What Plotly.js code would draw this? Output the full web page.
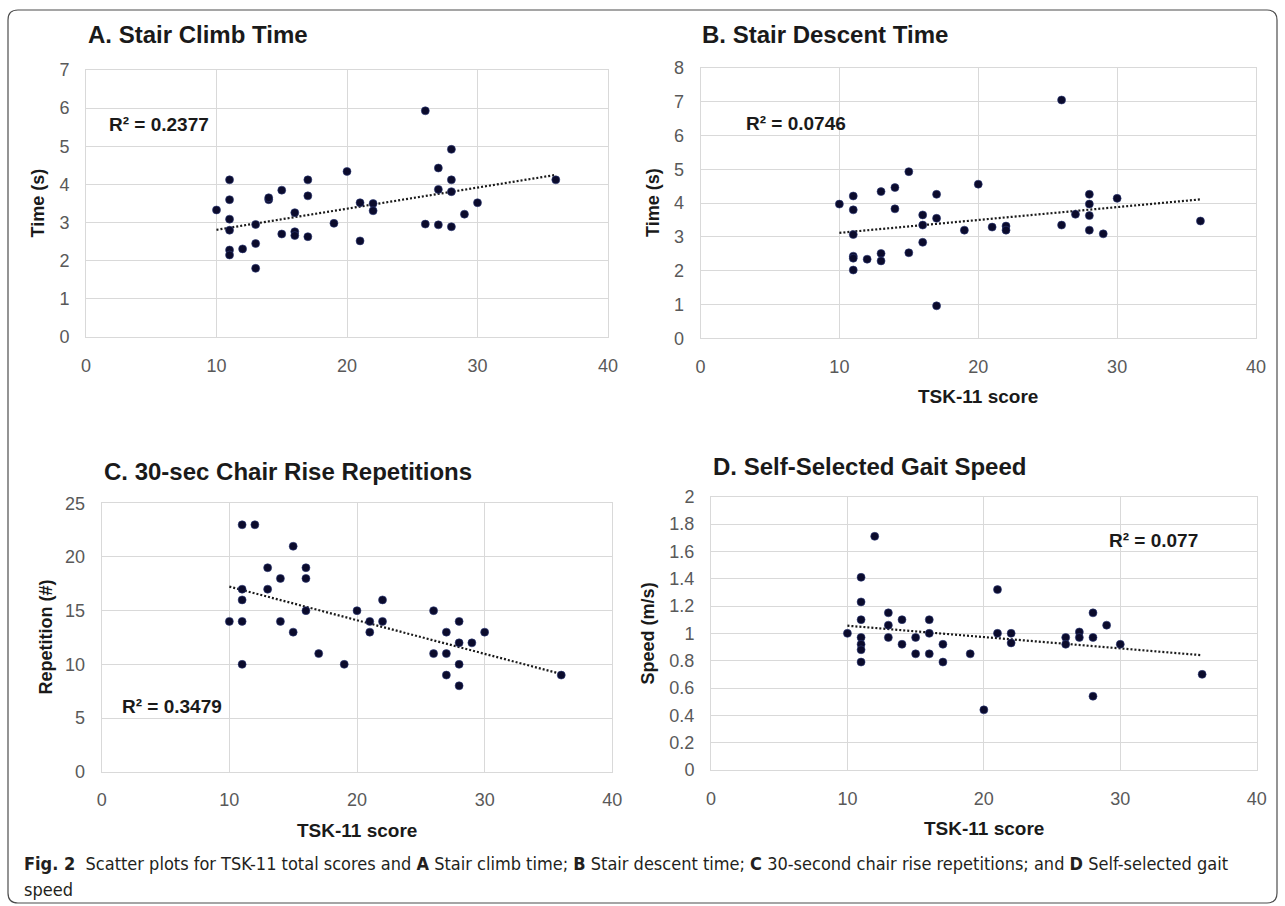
<!DOCTYPE html>
<html>
<head>
<meta charset="utf-8">
<script src="https://cdn.plot.ly/plotly-3.0.1.min.js"></script>
<style>html,body{margin:0;padding:0;background:#fff;}#chart{width:1285px;height:906px;}</style>
</head>
<body>
<div id="chart"></div>
<script>
// ---- Data ----
const panelTitles = ["A. Stair Climb Time", "B. Stair Descent Time", "C. 30-sec Chair Rise Repetitions", "D. Self-Selected Gait Speed"];
const yTitles = ["Time (s)", "Time (s)", "Repetition (#)", "Speed (m/s)"];
const xTitle = "TSK-11 score";
const r2Labels = ["R\u00b2 = 0.2377", "R\u00b2 = 0.0746", "R\u00b2 = 0.3479", "R\u00b2 = 0.077"];

// A. Stair climb time
const aX = [10,11,11,11,11,11,11,12,13,13,13,14,14,15,15,16,16,16,17,17,17,19,20,21,21,22,22,26,26,27,27,27,28,28,28,28,29,30,36];
const aY = [3.33,4.12,3.6,3.09,2.8,2.28,2.15,2.31,2.95,2.45,1.8,3.6,3.65,3.85,2.7,3.26,2.76,2.66,4.12,3.7,2.63,2.98,4.34,3.52,2.52,3.5,3.31,5.93,2.96,4.43,3.87,2.94,4.92,4.12,3.81,2.89,3.22,3.52,4.12];
// B. Stair descent time
const bX = [10,11,11,11,11,11,11,12,13,13,13,14,14,15,15,16,16,16,17,17,17,19,20,21,22,22,26,26,27,28,28,28,28,29,30,36];
const bY = [3.97,4.21,3.8,3.07,2.43,2.37,2.02,2.34,4.34,2.51,2.29,4.46,3.83,4.93,2.53,3.65,3.35,2.84,4.26,3.55,0.96,3.2,4.56,3.29,3.32,3.2,7.05,3.35,3.67,4.26,3.97,3.63,3.2,3.09,4.14,3.47];
// C. 30-sec chair rise repetitions
const cX = [10,11,11,11,11,11,12,13,13,14,14,15,15,16,16,16,17,19,20,21,21,22,22,26,26,27,27,27,28,28,28,28,29,30,36];
const cY = [14,23,17,16,14,10,23,19,17,18,14,21,13,19,18,15,11,10,15,14,13,16,14,15,11,13,11,9,14,12,10,8,12,13,9];
// D. Self-selected gait speed
const dX = [10,11,11,11,11,11,11,11,12,13,13,13,14,14,15,15,16,16,16,17,17,19,20,21,21,22,22,26,26,27,27,28,28,28,29,30,36];
const dY = [1.0,1.41,1.23,1.1,0.97,0.92,0.88,0.79,1.71,1.15,1.06,0.97,1.1,0.92,0.97,0.85,1.1,1.0,0.85,0.92,0.79,0.85,0.44,1.32,1.0,1.0,0.93,0.97,0.92,1.01,0.97,1.15,0.97,0.54,1.06,0.92,0.7];

// Linear trendline end points
const trendX = [10, 36];
const trendA = [2.81, 4.25];
const trendB = [3.12, 4.11];
const trendC = [17.24, 9.1];
const trendD = [1.056, 0.84];

// Axis ranges / ticks
const xRange = [0, 40];
const yRanges = [[0, 7], [0, 8], [0, 25], [0, 2]];
const yDticks = [1, 1, 5, 0.2];

// ---- Styling ----
const FONT = "Liberation Sans, Arial, sans-serif";
const markerStyle = {size: 8, color: "#0b0b2c", line: {color: "#2d3b78", width: 0.6}};
const trendStyle = {color: "#1a1a1a", width: 2.2, dash: "2px,2px"};

const series = [[aX, aY, trendA], [bX, bY, trendB], [cX, cY, trendC], [dX, dY, trendD]];
const traces = [];
series.forEach((s, i) => {
  const xa = i === 0 ? "x" : "x" + (i + 1);
  const ya = i === 0 ? "y" : "y" + (i + 1);
  traces.push({x: trendX, y: s[2], xaxis: xa, yaxis: ya, mode: "lines", line: trendStyle, hoverinfo: "skip", showlegend: false});
  traces.push({x: s[0], y: s[1], xaxis: xa, yaxis: ya, mode: "markers", marker: markerStyle, showlegend: false});
});

// plot areas in pixels [left, right, top, bottom]
const W = 1285, H = 906;
const boxes = [[86, 608, 70, 337], [700.5, 1256, 67.9, 338.3], [101.7, 612.3, 503.3, 771.7], [711, 1256.7, 496.7, 770]];
const px = v => v / W;
const py = v => 1 - v / H;

const axisCommon = {
  showgrid: true, gridcolor: "#d9d9d9", gridwidth: 1,
  showline: true, linecolor: "#d9d9d9", linewidth: 1, mirror: true,
  zeroline: false, ticks: "", fixedrange: true,
  tickfont: {family: FONT, size: 18, color: "#595959"}
};

const layout = {
  width: W, height: H,
  margin: {l: 0, r: 0, t: 0, b: 0},
  paper_bgcolor: "#ffffff", plot_bgcolor: "#ffffff",
  showlegend: false,
  annotations: [], shapes: []
};

boxes.forEach((b, i) => {
  const sfx = i === 0 ? "" : String(i + 1);
  layout["xaxis" + sfx] = Object.assign({}, axisCommon, {
    domain: [px(b[0]), px(b[1])], range: xRange, tick0: 0, dtick: 10,
    anchor: "y" + sfx, ticklabelstandoff: 12
  });
  layout["yaxis" + sfx] = Object.assign({}, axisCommon, {
    domain: [py(b[3]), py(b[2])], range: yRanges[i], tick0: 0, dtick: yDticks[i],
    anchor: "x" + sfx, ticklabelstandoff: 12
  });
});

// Panel titles
const titlePos = [[86, 35], [700.5, 35], [101.7, 471], [711, 467]];
titlePos.forEach((p, i) => {
  layout.annotations.push({text: panelTitles[i], xref: "paper", yref: "paper", x: px(p[0]), y: py(p[1]),
    xanchor: "left", yanchor: "middle", showarrow: false,
    font: {family: FONT, size: 24, color: "#1a1a1a", weight: "bold"}});
});
// Y axis titles
const yTitlePos = [[38, 203.5], [653, 203], [45, 637.5], [648, 633.4]];
yTitlePos.forEach((p, i) => {
  layout.annotations.push({text: yTitles[i], xref: "paper", yref: "paper", x: px(p[0]), y: py(p[1]),
    xanchor: "center", yanchor: "middle", textangle: -90, showarrow: false,
    font: {family: FONT, size: 18, color: "#1a1a1a", weight: "bold"}});
});
// X axis titles (panel A has none in the reference)
const xTitlePos = [[978, 396], [357, 830], [984, 828]];
xTitlePos.forEach(p => {
  layout.annotations.push({text: xTitle, xref: "paper", yref: "paper", x: px(p[0]), y: py(p[1]),
    xanchor: "center", yanchor: "middle", showarrow: false,
    font: {family: FONT, size: 19, color: "#1a1a1a", weight: "bold"}});
});
// R² labels (data coordinates)
const r2Pos = [[1.6, 5.56], [3.13, 6.36], [1.43, 6.12], [29.0, 1.68]];
r2Pos.forEach((p, i) => {
  const sfx = i === 0 ? "" : String(i + 1);
  layout.annotations.push({text: r2Labels[i], xref: "x" + sfx, yref: "y" + sfx, x: p[0], y: p[1],
    xanchor: "left", yanchor: "middle", showarrow: false,
    font: {family: FONT, size: 19, color: "#1a1a1a", weight: "bold"}});
});
// Caption
const CAPFONT = "Liberation Sans Narrow, DejaVu Sans Condensed, Arial Narrow, sans-serif";
layout.annotations.push({text: "<b>Fig. 2</b>  Scatter plots for TSK-11 total scores and <b>A</b> Stair climb time; <b>B</b> Stair descent time; <b>C</b> 30-second chair rise repetitions; and <b>D</b> Self-selected gait",
  xref: "paper", yref: "paper", x: px(22), y: py(863), xanchor: "left", yanchor: "middle", showarrow: false,
  font: {family: CAPFONT, size: 18, color: "#231f20"}});
layout.annotations.push({text: "speed",
  xref: "paper", yref: "paper", x: px(22), y: py(889), xanchor: "left", yanchor: "middle", showarrow: false,
  font: {family: CAPFONT, size: 18, color: "#231f20"}});

// Figure frame (rounded rectangle)
const L = px(8), R = px(1277), T = py(10), B = py(903), dx = 10 / W, dy = 10 / H;
layout.shapes.push({type: "path", xref: "paper", yref: "paper",
  path: `M ${L + dx} ${T} L ${R - dx} ${T} Q ${R} ${T} ${R} ${T - dy} L ${R} ${B + dy} Q ${R} ${B} ${R - dx} ${B} L ${L + dx} ${B} Q ${L} ${B} ${L} ${B + dy} L ${L} ${T - dy} Q ${L} ${T} ${L + dx} ${T} Z`,
  line: {color: "#4d4d4d", width: 1.2}, fillcolor: "rgba(0,0,0,0)"});

Plotly.newPlot("chart", traces, layout, {displayModeBar: false, staticPlot: true});
</script>
</body>
</html>
